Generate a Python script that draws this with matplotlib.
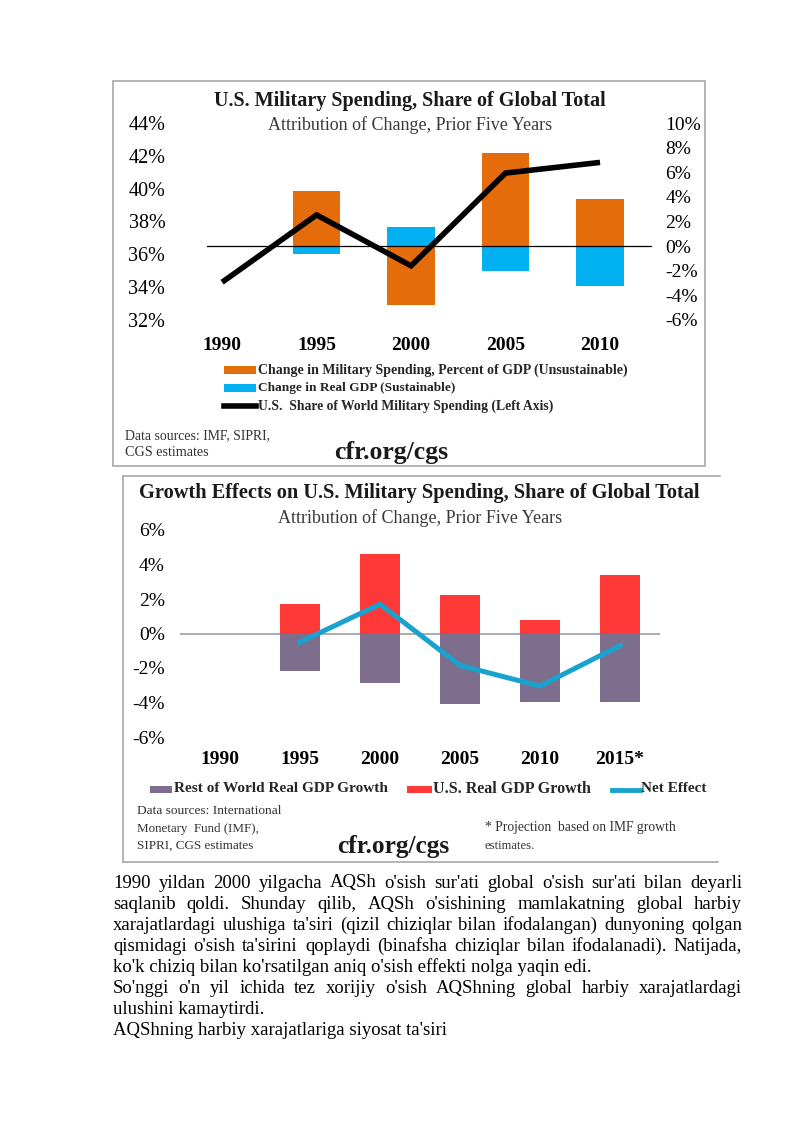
import numpy as np
import matplotlib
matplotlib.use('Agg')
import matplotlib.pyplot as plt
from matplotlib.patches import Rectangle
from matplotlib.lines import Line2D

plt.rcParams['font.family'] = ['Liberation Serif', 'DejaVu Serif']

# ---------------- data ----------------
years1 = ['1990', '1995', '2000', '2005', '2010']
us_share = [34.3, 38.4, 35.3, 40.95, 41.6]            # left axis, %
mil_change = [np.nan, 4.5, -4.75, 7.6, 3.85]           # right axis, %
gdp_change = [np.nan, -0.6, 1.55, -2.0, -3.2]          # right axis, %
left_ticks1 = [32, 34, 36, 38, 40, 42, 44]
right_ticks1 = [-6, -4, -2, 0, 2, 4, 6, 8, 10]

years2 = ['1990', '1995', '2000', '2005', '2010', '2015*']
row_growth = [np.nan, -2.2, -2.85, -4.1, -3.95, -3.95]
us_growth = [np.nan, 1.7, 4.6, 2.25, 0.8, 3.4]
net_effect = [np.nan, -0.5, 1.7, -1.85, -3.05, -0.7]
ticks2 = [-6, -4, -2, 0, 2, 4, 6]

legend1 = ['Change in Military Spending, Percent of GDP (Unsustainable)',
           'Change in Real GDP (Sustainable)',
           'U.S.  Share of World Military Spending (Left Axis)']
legend2 = ['Rest of World Real GDP Growth', 'U.S. Real GDP Growth', 'Net Effect']

body_lines = [
    "1990 yildan 2000 yilgacha AQSh o'sish sur'ati global o'sish sur'ati bilan deyarli",
    "saqlanib qoldi. Shunday qilib, AQSh o'sishining mamlakatning global harbiy",
    "xarajatlardagi ulushiga ta'siri (qizil chiziqlar bilan ifodalangan) dunyoning qolgan",
    "qismidagi o'sish ta'sirini qoplaydi (binafsha chiziqlar bilan ifodalanadi). Natijada,",
    "ko'k chiziq bilan ko'rsatilgan aniq o'sish effekti nolga yaqin edi.",
    "So'nggi o'n yil ichida tez xorijiy o'sish AQShning global harbiy xarajatlardagi",
    "ulushini kamaytirdi.",
    "AQShning harbiy xarajatlariga siyosat ta'siri",
]
justified = [True, True, True, True, False, True, False, False]

# ---------------- style ----------------
ORANGE = '#E46C0A'
BLUE = '#00B0F0'
RED = '#FF3838'
PURPLE = '#7E6E8E'
NETBLUE = '#18A3CF'

W, H = 800, 1131
fig = plt.figure(figsize=(W / 100, H / 100), dpi=100)
fig.patch.set_facecolor('white')
renderer = fig.canvas.get_renderer()


def rect(x0, y0, x1, y1):
    return [x0 / W, 1 - y1 / H, (x1 - x0) / W, (y1 - y0) / H]


def place(x, y, s, width=None, size=10, ha='left', va='center', **kw):
    t = fig.text(x / W, 1 - y / H, s, ha=ha, va=va, fontsize=size, **kw)
    if width:
        w = t.get_window_extent(renderer).width
        t.set_fontsize(size * width / w)
    return t


def hline(x0, x1, y, **kw):
    fig.add_artist(Line2D([x0 / W, x1 / W], [1 - y / H, 1 - y / H], **kw))


def vline(x, y0, y1, **kw):
    fig.add_artist(Line2D([x / W, x / W], [1 - y0 / H, 1 - y1 / H], **kw))


def patch(x0, y0, x1, y1, color):
    fig.add_artist(Rectangle((x0 / W, 1 - y1 / H), (x1 - x0) / W, (y1 - y0) / H,
                             facecolor=color, edgecolor='none'))


# ================= Chart 1 =================
fig.add_artist(Rectangle((113 / W, 1 - 466 / H), (705 - 113) / W, (466 - 81) / H,
                         facecolor='none', edgecolor='#A8A8A8', lw=1.2))

axL = fig.add_axes(rect(207, 123, 652, 320))
axR = axL.twinx()
axL.set_zorder(3)
axL.patch.set_visible(False)

x1 = np.arange(len(years1))
axR.bar(x1, mil_change, width=0.5, color=ORANGE, zorder=2)
axR.bar(x1, gdp_change, width=0.5, color=BLUE, zorder=2)
axR.axhline(0, color='black', lw=0.9, zorder=3)
axR.set_ylim(-6, 10)
axR.set_yticks(right_ticks1, [f'{v}%' for v in right_ticks1])
axR.tick_params(axis='y', length=0, pad=9.5, labelsize=14)

axL.plot(x1, us_share, color='black', lw=4, solid_joinstyle='miter', solid_capstyle='butt')
axL.set_ylim(32, 44)
axL.set_yticks(left_ticks1, [f'{v}%' for v in left_ticks1])
axL.tick_params(axis='y', length=0, pad=30, labelsize=14.5)
axL.set_xlim(-0.16, 4.55)
axL.set_xticks(x1, years1)
axL.tick_params(axis='x', length=0, pad=12, labelsize=14)
for lab in axL.get_xticklabels():
    lab.set_fontweight('bold')
for a in (axL, axR):
    for sp in a.spines.values():
        sp.set_visible(False)

place(410, 101, 'U.S. Military Spending, Share of Global Total', width=394,
      ha='center', fontweight='bold', color='#1a1a1a')
place(410, 125, 'Attribution of Change, Prior Five Years', width=284,
      ha='center', color='#3a3a3a')

# legend 1
patch(224, 366, 256, 374, ORANGE)
patch(224, 384, 256, 392, BLUE)
fig.add_artist(Line2D([224 / W, 256 / W], [1 - 406 / H, 1 - 406 / H], color='black', lw=4))
place(258, 370, legend1[0], width=370, fontweight='bold', color='#262626')
place(258, 388, legend1[1], width=197, fontweight='bold', color='#262626')
place(258, 406, legend1[2], width=297, fontweight='bold', color='#262626')

place(125, 436, 'Data sources: IMF, SIPRI,', width=145, color='#333333')
place(125, 453, 'CGS estimates', width=84, color='#333333')
place(391, 453, 'cfr.org/cgs', width=115, ha='center', fontweight='bold', color='#1a1a1a')

# ================= Chart 2 =================
hline(123, 720, 476, color='#A8A8A8', lw=1.2)
vline(123, 476, 862, color='#A8A8A8', lw=1.2)
hline(123, 718, 862, color='#A8A8A8', lw=1.2)

ax2 = fig.add_axes(rect(180, 530, 660, 737))
x2 = np.arange(len(years2))
ax2.bar(x2, us_growth, width=0.5, color=RED, zorder=2)
ax2.bar(x2, row_growth, width=0.5, color=PURPLE, zorder=2)
ax2.axhline(0, color='#A0A0A0', lw=1.2, zorder=1)
ax2.plot(x2, net_effect, color=NETBLUE, lw=3.6, zorder=3)
ax2.set_ylim(-6, 6)
ax2.set_yticks(ticks2, [f'{v}%' for v in ticks2])
ax2.tick_params(axis='y', length=0, pad=11, labelsize=14)
ax2.set_xlim(-0.5, 5.5)
ax2.set_xticks(x2, years2)
ax2.tick_params(axis='x', length=0, pad=10, labelsize=14)
for lab in ax2.get_xticklabels():
    lab.set_fontweight('bold')
for sp in ax2.spines.values():
    sp.set_visible(False)

place(419, 493, 'Growth Effects on U.S. Military Spending, Share of Global Total', width=562,
      ha='center', fontweight='bold', color='#1a1a1a')
place(420, 518, 'Attribution of Change, Prior Five Years', width=284,
      ha='center', color='#3a3a3a')

# legend 2
patch(150, 786, 172, 793, PURPLE)
place(174, 789, legend2[0], width=214, fontweight='bold', color='#262626')
patch(407, 786, 432, 793, RED)
place(433, 789, legend2[1], width=157, fontweight='bold', color='#262626')
fig.add_artist(Line2D([612 / W, 640 / W], [1 - 789.5 / H, 1 - 789.5 / H], color=NETBLUE, lw=3.5))
place(641, 789, legend2[2], width=66, fontweight='bold', color='#262626')

place(137, 811, 'Data sources: International', width=145, color='#333333')
place(137, 829, 'Monetary  Fund (IMF),', width=122, color='#333333')
place(137, 846, 'SIPRI, CGS estimates', width=116, color='#333333')
place(393, 846, 'cfr.org/cgs', width=113, ha='center', fontweight='bold', color='#1a1a1a')
place(485, 828, '* Projection  based on IMF growth', width=191, color='#333333')
place(485, 846, 'estimates.', width=50, color='#333333')

# ================= Body text =================
LEFT, RIGHT = 113, 742
probe = place(LEFT, 0, body_lines[7], width=335, va='baseline')
fs = probe.get_fontsize()
probe.remove()

for i, (line, just) in enumerate(zip(body_lines, justified)):
    yb = 887.5 + 21.1 * i
    if not just:
        place(LEFT, yb, line, size=fs, va='baseline', color='black')
        continue
    words = line.split(' ')
    texts = [place(LEFT, yb, w, size=fs, va='baseline', color='black') for w in words]
    widths = [t.get_window_extent(renderer).width for t in texts]
    gap = (RIGHT - LEFT - sum(widths)) / (len(words) - 1)
    xc = LEFT
    for t, w in zip(texts, widths):
        t.set_x(xc / W)
        xc += w + gap

fig.savefig('out.png', dpi=100)
